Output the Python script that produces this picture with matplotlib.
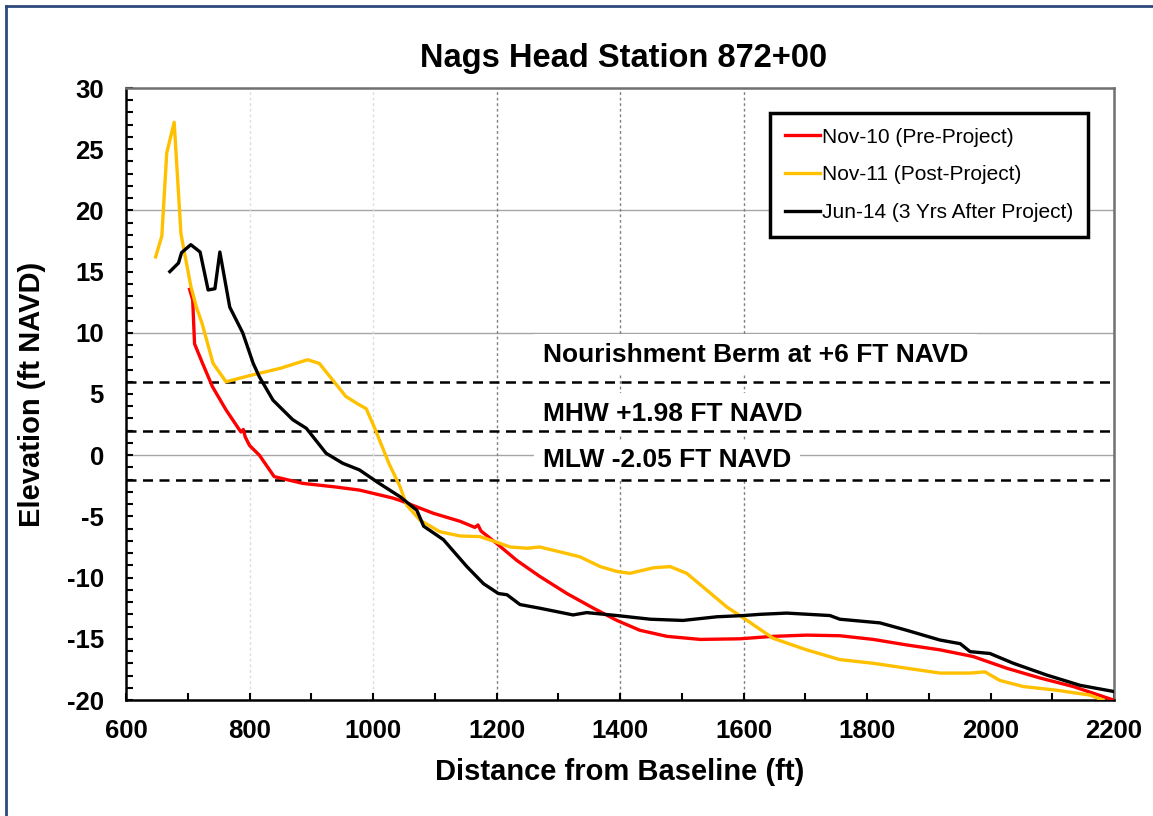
import numpy as np
import matplotlib
matplotlib.use('Agg')
import matplotlib.pyplot as plt
from matplotlib.lines import Line2D

plt.rcParams['font.family'] = ['Liberation Sans', 'DejaVu Sans']
plt.rcParams['axes.unicode_minus'] = False

# Nov-10 (Pre-Project)
nov10_x = [703, 708, 711, 724, 740, 762, 786, 790, 793, 800, 816, 840, 886, 940, 978,
           1032, 1044, 1098, 1141, 1165, 1170, 1175, 1200, 1233, 1270, 1314, 1357, 1395,
           1432, 1476, 1530, 1594, 1648, 1702, 1756, 1810, 1864, 1918, 1972, 2026, 2080,
           2134, 2199]
nov10_y = [13.55, 12.7, 9.1, 7.5, 5.6, 3.7, 1.9, 2.1, 1.5, 0.8, 0.0, -1.75, -2.3, -2.6, -2.85,
           -3.5, -3.7, -4.75, -5.4, -5.9, -5.7, -6.2, -7.2, -8.6, -9.9, -11.3, -12.5, -13.5,
           -14.3, -14.8, -15.05, -15.0, -14.8, -14.7, -14.75, -15.05, -15.5, -15.9, -16.45,
           -17.4, -18.2, -18.9, -20.0]

# Nov-11 (Post-Project)
nov11_x = [648, 658, 666, 678, 689, 693, 705, 714, 723, 741, 762, 800, 850, 894, 913, 937,
           956, 975, 989, 1002, 1026, 1044, 1051, 1055, 1076, 1108, 1141, 1173, 1200, 1222,
           1249, 1270, 1303, 1335, 1368, 1395, 1416, 1454, 1481, 1508, 1540, 1573, 1600,
           1648, 1702, 1756, 1810, 1864, 1918, 1967, 1991, 2015, 2053, 2107, 2161, 2182]
nov11_y = [16.2, 17.9, 24.7, 27.2, 18.1, 17.0, 13.8, 12.1, 10.8, 7.5, 6.0, 6.5, 7.1, 7.8, 7.5,
           6.0, 4.8, 4.2, 3.8, 2.3, -0.7, -2.6, -3.6, -4.1, -5.3, -6.25, -6.6, -6.65, -7.1,
           -7.5, -7.6, -7.5, -7.9, -8.3, -9.1, -9.5, -9.65, -9.2, -9.1, -9.65, -11.0, -12.4,
           -13.3, -14.96, -15.9, -16.7, -17.0, -17.4, -17.8, -17.8, -17.7, -18.4, -18.9,
           -19.2, -19.6, -20.0]

# Jun-14 (3 Yrs After Project)
jun14_x = [671, 685, 690, 705, 720, 733, 744, 752, 768, 789, 806, 816, 838, 870, 892, 924,
           951, 978, 1010, 1044, 1071, 1082, 1114, 1152, 1179, 1203, 1217, 1238, 1270, 1324,
           1346, 1395, 1449, 1502, 1557, 1600, 1627, 1670, 1740, 1756, 1821, 1864, 1918,
           1951, 1967, 1999, 2037, 2091, 2145, 2199]
jun14_y = [15.0, 15.7, 16.55, 17.2, 16.6, 13.5, 13.6, 16.6, 12.1, 10.0, 7.5, 6.4, 4.5, 2.9,
           2.2, 0.16, -0.66, -1.2, -2.3, -3.4, -4.5, -5.8, -6.9, -9.1, -10.5, -11.3, -11.4,
           -12.2, -12.5, -13.05, -12.86, -13.1, -13.4, -13.5, -13.2, -13.1, -13.0, -12.9,
           -13.1, -13.4, -13.7, -14.3, -15.1, -15.4, -16.05, -16.2, -17.0, -17.96, -18.8,
           -19.3]

datum_levels = [6.0, 1.98, -2.05]
datum_labels = ['Nourishment Berm at +6 FT NAVD', 'MHW +1.98 FT NAVD', 'MLW -2.05 FT NAVD']
datum_label_y = [8.2, 3.4, -0.4]

W, H = 1153, 816
fig = plt.figure(figsize=(W / 100, H / 100), dpi=100)
ax = fig.add_axes([126 / W, 1 - 700 / H, 988 / W, 612 / H])

# grid lines (only some are drawn in the original)
for yv in [20, 10, 0]:
    ax.axhline(yv, color='#a6a6a6', lw=1.0, zorder=1)
for xv in [800, 1000]:
    ax.axvline(xv, color='#dddddd', lw=1.0, ls=(0, (2, 2)), zorder=1)
for xv in [1200, 1400, 1600]:
    ax.axvline(xv, color='#808080', lw=1.0, ls=(0, (2, 2)), zorder=1)

# datum lines + labels
for lvl in datum_levels:
    ax.axhline(lvl, color='black', lw=1.8, ls=(0, (4, 2.6)), zorder=3)
for txt, ty in zip(datum_labels, datum_label_y):
    ax.text(1275, ty, txt, fontsize=19, fontweight='bold', ha='left', va='center',
            zorder=2.5, bbox=dict(facecolor='white', edgecolor='none', pad=6))

ax.plot(nov10_x, nov10_y, color='#ff0000', lw=2.4, label='Nov-10 (Pre-Project)', zorder=4)
ax.plot(nov11_x, nov11_y, color='#ffc000', lw=2.4, label='Nov-11 (Post-Project)', zorder=4)
ax.plot(jun14_x, jun14_y, color='black', lw=2.4, label='Jun-14 (3 Yrs After Project)', zorder=4)

ax.set_xlim(600, 2200)
ax.set_ylim(-20, 30)
ax.set_xticks(np.arange(600, 2201, 200))
ax.set_xticks(np.arange(600, 2201, 100), minor=True)
ax.set_yticks(np.arange(-20, 31, 5))
ax.set_yticks(np.arange(-20, 31, 1), minor=True)
ax.tick_params(axis='both', which='both', direction='in', width=1.5, color='black')
ax.tick_params(axis='both', which='major', length=5, labelsize=18.5)
ax.tick_params(axis='both', which='minor', length=5)
ax.tick_params(axis='y', which='major', pad=16)
ax.tick_params(axis='x', which='major', pad=14)
for lab in ax.get_xticklabels() + ax.get_yticklabels():
    lab.set_fontweight('bold')

for side in ['left', 'bottom']:
    ax.spines[side].set_color('black')
    ax.spines[side].set_linewidth(1.8)
for side in ['top', 'right']:
    ax.spines[side].set_color('#707070')
    ax.spines[side].set_linewidth(1.8)

ax.set_xlabel('Distance from Baseline (ft)', fontsize=21, fontweight='bold')
ax.set_ylabel('Elevation (ft NAVD)', fontsize=21, fontweight='bold')
ax.xaxis.set_label_coords(0.5, -0.095)
ax.yaxis.set_label_coords(-0.081, 0.5)

fig.text(624 / W, 1 - 58 / H, 'Nags Head Station 872+00', fontsize=23.5,
         fontweight='bold', ha='center', va='center')

leg = ax.legend(loc='upper left', bbox_to_anchor=(770 / W, 1 - 113 / H),
                bbox_transform=fig.transFigure, borderaxespad=0, fontsize=15,
                handlelength=1.7, handletextpad=0.1, labelspacing=0.9,
                fancybox=False, framealpha=1, borderpad=0.7)
leg.get_frame().set_edgecolor('black')
leg.get_frame().set_linewidth(2.5)
leg.set_zorder(6)

# outer frame
fig.add_artist(Line2D([6 / W, 6 / W], [0, 1 - 6 / H], transform=fig.transFigure,
                      color='#2e4a7d', lw=2))
fig.add_artist(Line2D([6 / W, 1], [1 - 6 / H, 1 - 6 / H], transform=fig.transFigure,
                      color='#2e4a7d', lw=2))

fig.savefig('out.png', dpi=100)
